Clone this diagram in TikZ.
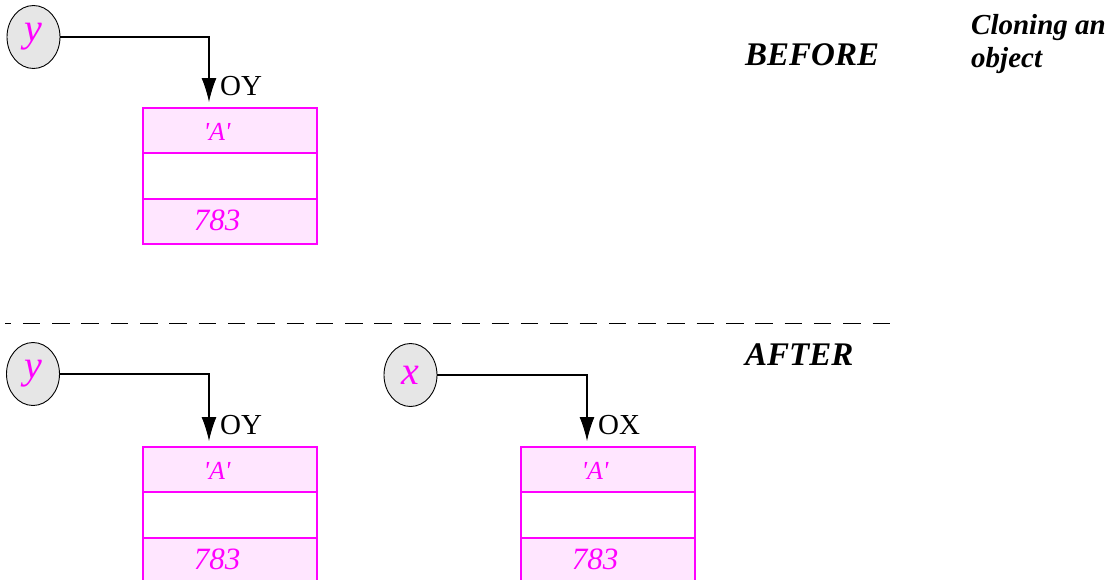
\documentclass[tikz,border=0pt]{standalone}
\usepackage{fontspec}
\setmainfont{Liberation Serif}
\definecolor{objPink}{HTML}{FFE6FF}
\definecolor{objMagenta}{HTML}{FF00FF}
\definecolor{refGray}{HTML}{E6E6E6}
\usetikzlibrary{
	arrows.meta,
	positioning,
	shapes.geometric
}

\begin{document}
\begin{tikzpicture}[x=1pt,y=-1pt,
		refvar/.style={ellipse, draw, line width=0.9pt, fill=refGray, inner sep=0pt,
			minimum width=53pt, minimum height=63pt, text=objMagenta,
			font=\fontsize{40}{40}\selectfont\itshape},
		fieldbox/.style={rectangle, draw=objMagenta, line width=1.3pt, inner sep=0pt,
			minimum width=174pt, minimum height=44.5pt},
		fieldtext/.style={text=objMagenta, xshift=-13pt, font=\itshape},
		ptr/.style={-{Latex[length=24pt, width=15pt]}, line width=1.1pt},
		ptrlabel/.style={inner sep=0pt, font=\fontsize{29}{29}\selectfont},
		heading/.style={inner sep=0pt, anchor=base west,
			font=\fontsize{33}{33}\selectfont\bfseries\itshape}
	]
		\useasboundingbox (0,0) rectangle (1119,579);
		\clip (0,0) rectangle (1119,579);
		% headings
		\node[heading] (before) at (745,65) {BEFORE};
		\node[heading] (after) at (745,365) {AFTER};
		\node[heading, font=\fontsize{29}{33}\selectfont\bfseries\itshape, align=left,
			anchor=north west] (title) at (971,14) {Cloning an\\object};
		\draw[line width=1pt, dash pattern=on 17.5pt off 11.8pt, dash phase=11.5pt] (5,323) -- (893,323);
		% variables and the objects they refer to
		\foreach \i/\L/\T/\lab/\var/\vx/\vy in {1/143/108/OY/y/33.5/37, 2/143/447/OY/y/33/374, 3/521/447/OX/x/410.5/375}{
			\node[refvar] (v\i) at (\vx,\vy) {\var};
			\node[fieldbox, fill=objPink,
				label={[fieldtext, yshift=-1.5pt, font=\fontsize{26}{26}\selectfont\itshape]center:{\textquotesingle A\textquotesingle}}]
				(f\i a) at (\L+87,\T+22.25) {};
			\node[fieldbox, below=0pt of f\i a] (f\i b) {};
			\node[fieldbox, fill=objPink, below=0pt of f\i b,
				label={[fieldtext, yshift=2pt, font=\fontsize{31}{31}\selectfont\itshape]center:783}] (f\i c) {};
			\coordinate (tip\i) at (\L+66,\T-6);
			\draw[ptr] (v\i.east) -| (tip\i);
			\node[ptrlabel, anchor=base west] (l\i) at (\L+77,\T-13) {\lab};
		}
	\end{tikzpicture}
\end{document}
